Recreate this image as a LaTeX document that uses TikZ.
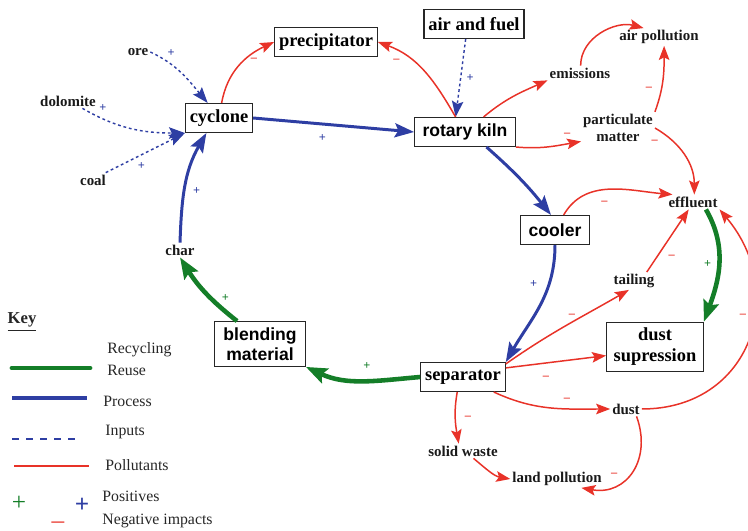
\documentclass[tikz,border=0pt]{standalone}
\usepackage{fontspec}
\setmainfont{Liberation Serif}
\setsansfont{Liberation Sans}
\usetikzlibrary{arrows.meta}
\definecolor{procblue}{RGB}{46,62,163}
\definecolor{recgreen}{RGB}{20,126,40}
\definecolor{polred}{RGB}{232,50,40}
\tikzset{
  box/.style={draw=black!85,line width=0.6pt,inner xsep=2.5pt,minimum height=16.5pt,
    font=\fontsize{10.5}{12}\selectfont\bfseries},
  sbox/.style={box,inner xsep=4.5pt,font=\fontsize{10}{11.5}\selectfont\sffamily\bfseries},
  item/.style={inner sep=1pt,text=black!90,font=\fontsize{8.5}{10}\selectfont\bfseries},
  keytext/.style={anchor=west,inner sep=0pt,text=black!85,font=\fontsize{9}{10}\selectfont},
  process/.style={procblue,line width=1.7pt,-{Stealth[length=11pt,width=8pt,inset=2pt]}},
  recycle/.style={recgreen,line width=2.6pt,-{Stealth[length=12pt,width=9pt,inset=2pt]}},
  inputs/.style={procblue,line width=0.8pt,dash pattern=on 1.6pt off 1.6pt,
    -{Stealth[length=9pt,width=6.5pt,inset=1.5pt]}},
  pollut/.style={polred,line width=0.85pt,-{Stealth[length=8pt,width=6pt,inset=1.5pt]}},
  bpos/.style={inner sep=1pt,font=\scriptsize\bfseries,text=procblue},
  gpos/.style={inner sep=1pt,font=\scriptsize\bfseries,text=recgreen},
  neg/.style={inner sep=1pt,font=\scriptsize\bfseries,text=polred},
}
\begin{document}
\begin{tikzpicture}[x=0.02cm,y=0.02cm]
  \useasboundingbox (0,0) rectangle (748,531);
  % boxes
  \node[box] (prec) at (326,489) {precipitator};
  \node[box] (air) at (474,507) {air and fuel};
  \node[box] (cyc) at (219,413) {cyclone};
  \node[sbox] (kiln) at (465,399) {rotary kiln};
  \node[sbox] (cool) at (555,301) {cooler};
  \node[sbox,align=center,inner xsep=5pt] (blend) at (260,187) {blending\\material};
  \node[box] (sep) at (463,154) {separator};
  \node[box,align=center,inner xsep=4pt] (supp) at (655,184) {dust\\supression};
  % inputs and outputs
  \node[item] (ore) at (138,479) {ore};
  \node[item] (dolo) at (68,430) {dolomite};
  \node[item] (coal) at (93,351) {coal};
  \node[item] (char) at (180,281) {char};
  \node[item] (emis) at (580,458) {emissions};
  \node[item] (airp) at (659,494) {air pollution};
  \node[item,align=center] (pm) at (618,403) {particulate\\matter};
  \node[item] (eff) at (693,329) {effluent};
  \node[item] (tail) at (634,250) {tailing};
  \node[item] (dust) at (626,122) {dust};
  \node[item] (solid) at (463,80) {solid waste};
  \node[item] (land) at (557,52) {land pollution};

  % process loop
  \draw[process] (cyc.east) -- node[bpos,pos=0.43,below=4pt]{+} (kiln.west);
  \draw[process] (kiln.-35) to[bend left=5] (cool.105);
  \draw[process] (cool.south) to[out=-90,in=60] node[bpos,pos=0.3,left=5pt]{+} (sep.north east);
  \draw[process] (char.north) to[out=88,in=-120] node[bpos,pos=0.45,right=3pt]{+} (cyc.-130);
  % recycling
  \draw[recycle] (sep.west) to[out=185,in=-25] node[gpos,pos=0.45,above=4pt]{+} (blend.south east);
  \draw[recycle] (blend.135) to[bend left=10] node[gpos,pos=0.4,right=4pt]{+} (char.south);
  \draw[recycle] (eff.-30) to[out=-60,in=70] node[gpos,pos=0.5,left=2pt]{+} (supp.north east);
  % inputs
  \draw[inputs] (ore.east) to[out=-25,in=130] node[bpos,pos=0.3,above=3pt]{+} (cyc.127);
  \draw[inputs] (dolo.-27) to[out=-30,in=180] node[bpos,pos=0.2,above=3pt]{+} (cyc.south west);
  \draw[inputs] (coal.30) -- node[bpos,pos=0.45,below=3pt]{+} (cyc.south west);
  \draw[inputs] (air.-119) -- node[bpos,pos=0.5,right=2pt]{+} (kiln.122);
  % pollutants
  \draw[pollut] (cyc.80) to[out=80,in=205] node[neg,pos=0.6,right=2pt]{--} (prec.west);
  \draw[pollut] (kiln.122) to[out=120,in=-20] node[neg,pos=0.75,below left=1pt]{--} (prec.east);
  \draw[pollut] (kiln.39) to[out=40,in=204] (emis.south west);
  \draw[pollut] (emis.85) to[out=90,in=165] (airp.150);
  \draw[pollut] (pm.north east) to[out=70,in=-90] node[neg,pos=0.35,left=4pt]{--} (airp.-60);
  \draw[pollut] (kiln.south east) to[out=-5,in=190] node[neg,pos=0.8,above=3pt]{--} (pm.200);
  \draw[pollut] (pm.east) to[out=-30,in=90] node[neg,pos=0.12,below left=2pt]{--} (eff.80);
  \draw[pollut] (cool.60) to[out=60,in=175] node[neg,pos=0.45,below=5pt]{--} (eff.160);
  \draw[pollut] (tail.35) -- node[neg,pos=0.25,right=5pt]{--} (eff.-120);
  \draw[pollut] (sep.17) to[out=35,in=210] node[neg,pos=0.55,above=1pt]{--} (tail.-120);
  \draw[pollut] (sep.12) -- node[neg,pos=0.4,below=6pt]{--} (supp.190);
  \draw[pollut] (sep.-26) to[out=-25,in=180] node[neg,pos=0.65,above=3pt]{--} (dust.west);
  \draw[pollut] (dust.east) to[out=0,in=-50,looseness=1.3] node[neg,pos=0.6,left=3pt]{--} (eff.south east);
  \draw[pollut] (sep.-111) to[out=-100,in=100] node[neg,pos=0.5,right=4pt]{--} (solid.120);
  \draw[pollut] (solid.-35) to[out=-40,in=170] (land.west);
  \draw[pollut] (dust.-35) to[out=-70,in=-10,looseness=1.3] node[neg,pos=0.55,left=5pt]{--} (land.-20);

  % key
  \node[inner sep=0pt,text=black!85,font=\fontsize{9.5}{11}\selectfont\bfseries] (key) at (22,209) {\underline{Key}};
  \draw[recgreen,line width=2.8pt,line cap=round] (12,163) -- (90,163);
  \node[keytext] (keyrec) at (107,181) {Recycling};
  \node[keytext] (keyreuse) at (107,161) {Reuse};
  \draw[procblue,line width=2pt] (12,133) -- (87,133);
  \node[keytext] (keyproc) at (103,130) {Process};
  \draw[procblue,line width=0.8pt,dash pattern=on 4pt off 4pt] (12,92) -- (82,92);
  \node[keytext] (keyin) at (105,99) {Inputs};
  \draw[polred,line width=1.7pt] (14,65) -- (89,65);
  \node[keytext] (keypol) at (105,66) {Pollutants};
  \node[inner sep=0pt,text=recgreen,font=\Large] (keygp) at (19,28) {+};
  \node[inner sep=0pt,text=procblue,font=\Large\bfseries] (keybp) at (82,26) {+};
  \node[keytext] (keypos) at (102,35) {Positives};
  \node[inner sep=0pt,text=polred,font=\Large] (keyneg) at (58,6) {--};
  \node[keytext] (keynegtext) at (102,10) {Negative impacts};
\end{tikzpicture}
\end{document}
